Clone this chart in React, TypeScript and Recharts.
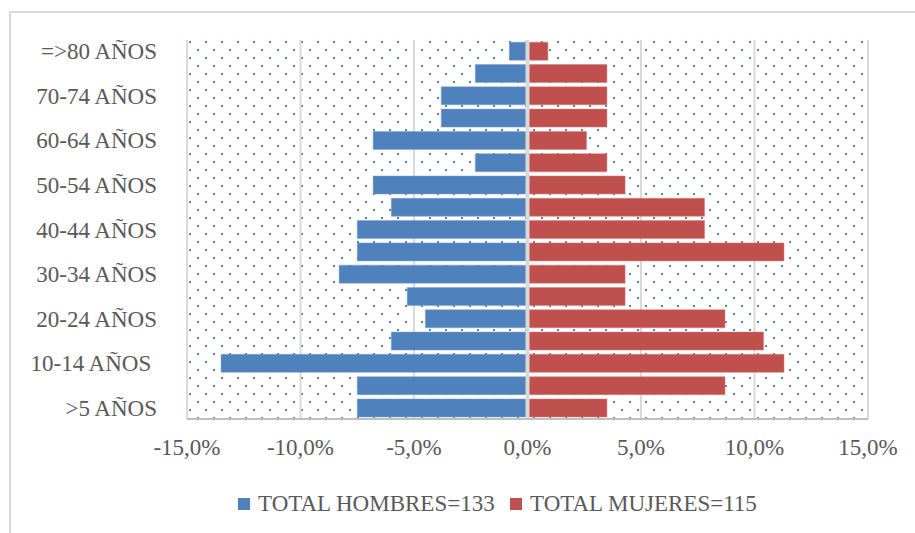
import React from 'react';
import { BarChart, Bar, XAxis, YAxis, CartesianGrid, ReferenceLine } from 'recharts';

const categories = [
  '>5 AÑOS', '5-9 AÑOS', '10-14 AÑOS\u00A0', '15-19 AÑOS', '20-24 AÑOS', '25-29 AÑOS',
  '30-34 AÑOS', '35-39 AÑOS', '40-44 AÑOS', '45-49 AÑOS', '50-54 AÑOS', '55-59 AÑOS',
  '60-64 AÑOS', '65-69 AÑOS', '70-74 AÑOS', '75-79 AÑOS', '=>80 AÑOS',
];
const hombres = [-7.5, -7.5, -13.5, -6.0, -4.5, -5.3, -8.3, -7.5, -7.5, -6.0, -6.8, -2.3, -6.8, -3.8, -3.8, -2.3, -0.8];
const mujeres = [3.5, 8.7, 11.3, 10.4, 8.7, 4.3, 4.3, 11.3, 7.8, 7.8, 4.3, 3.5, 2.6, 3.5, 3.5, 3.5, 0.9];
const xTicks = [-15, -10, -5, 0, 5, 10, 15];
const seriesNames = ['TOTAL HOMBRES=133', 'TOTAL MUJERES=115'];
const colors = ['#4f81bd', '#c0504d'];

const data = categories.map((c, i) => ({ name: c, h: hombres[i], m: mujeres[i] }));

const FONT = '"Liberation Serif", serif';
const TEXT = '#595959';

export default function App() {
  return (
    <div style={{ position: 'absolute', left: 0, top: 0, width: 915, height: 533, background: '#fff', overflow: 'hidden' }}>
      <div style={{ position: 'absolute', left: 9, top: 11, width: 920, height: 540, borderLeft: '2px solid #d9d9d9', borderTop: '2px solid #d9d9d9' }} />
      <div style={{ position: 'absolute', left: 0, top: 0 }}>
        <BarChart
          width={915}
          height={533}
          data={data}
          layout="vertical"
          stackOffset="sign"
          margin={{ top: 40, right: 47, bottom: 74, left: 0 }}
          barCategoryGap="10%"
        >
          <defs>
            <pattern id="dots" width="16" height="16" patternUnits="userSpaceOnUse" x="187" y="40">
              <rect x="2" y="1" width="2" height="2" fill="#4f81bd" />
              <rect x="10" y="9" width="2" height="2" fill="#4f81bd" />
            </pattern>
          </defs>
          <CartesianGrid horizontal={false} fill="url(#dots)" stroke="#d9d9d9" strokeWidth={2} verticalValues={xTicks} />
          <XAxis
            type="number"
            domain={[-15, 15]}
            ticks={xTicks}
            tickFormatter={(v: number) => v.toFixed(1).replace('.', ',') + '%'}
            height={40}
            tickLine={false}
            tickSize={0}
            tickMargin={20}
            axisLine={{ stroke: '#bfbfbf', strokeWidth: 2 }}
            tick={{ fill: TEXT, fontFamily: FONT, fontSize: 23 }}
            allowDataOverflow
          />
          <YAxis
            type="category"
            dataKey="name"
            reversed
            width={187}
            interval={1}
            tickLine={false}
            tickSize={0}
            tickMargin={30}
            axisLine={false}
            tick={{ fill: TEXT, fontFamily: FONT, fontSize: 23 }}
          />
          <Bar dataKey="h" stackId="a" fill={colors[0]} stroke="#7fa3d1" strokeWidth={0.5} isAnimationActive={false} />
          <Bar dataKey="m" stackId="a" fill={colors[1]} stroke="#d47f7d" strokeWidth={0.5} isAnimationActive={false} />
          <ReferenceLine x={0} stroke="#d9d9d9" strokeWidth={4} />
        </BarChart>
      </div>
      {seriesNames.map((n, i) => (
        <div
          key={n}
          style={{
            position: 'absolute',
            left: i === 0 ? 238 : 510,
            top: 491,
            display: 'flex',
            alignItems: 'center',
            fontFamily: FONT,
            fontSize: 23,
            color: TEXT,
            whiteSpace: 'nowrap',
          }}
        >
          <span style={{ display: 'inline-block', width: 12, height: 12, background: colors[i], marginRight: 8 }} />
          {n}
        </div>
      ))}
    </div>
  );
}
